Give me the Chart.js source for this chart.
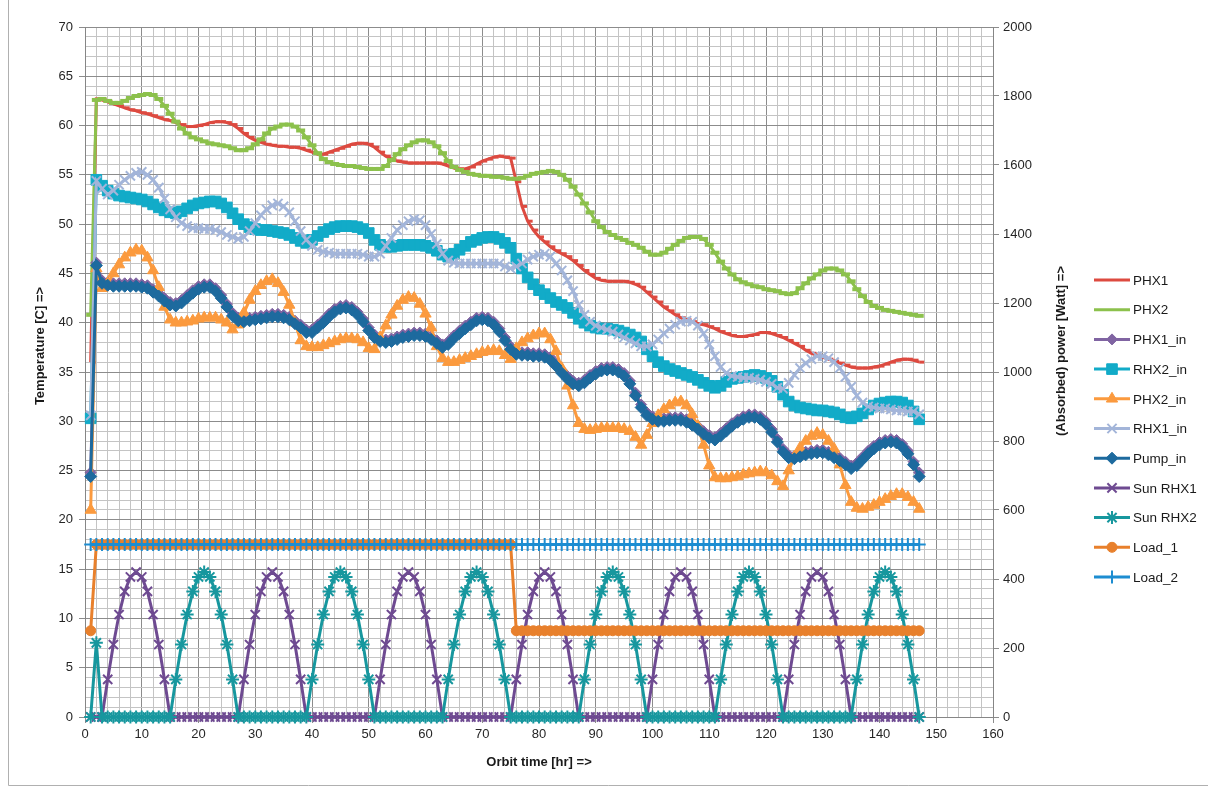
<!DOCTYPE html>
<html lang="en">
<head>
<meta charset="UTF-8">
<title>Orbit temperatures and absorbed power</title>
<script src="https://cdn.jsdelivr.net/npm/chart.js"></script>
<style>
  html, body { margin: 0; padding: 0; background: #fff; }
  #wrap { position: relative; width: 1208px; height: 787px; }
  canvas { position: absolute; left: 0; top: 0; }
</style>
</head>
<body>
<div id="wrap"><canvas id="Chart" width="1208" height="787"></canvas></div>
<script>
// orbit time [hr]
const hours = [
  1,2,3,4,5,6,7,8,9,10, 11,12,13,14,15,16,17,18,19,20,
  21,22,23,24,25,26,27,28,29,30, 31,32,33,34,35,36,37,38,39,40,
  41,42,43,44,45,46,47,48,49,50, 51,52,53,54,55,56,57,58,59,60,
  61,62,63,64,65,66,67,68,69,70, 71,72,73,74,75,76,77,78,79,80,
  81,82,83,84,85,86,87,88,89,90, 91,92,93,94,95,96,97,98,99,100,
  101,102,103,104,105,106,107,108,109,110, 111,112,113,114,115,116,117,118,119,120,
  121,122,123,124,125,126,127,128,129,130, 131,132,133,134,135,136,137,138,139,140,
  141,142,143,144,145,146,147
];

// temperatures [C] (left axis)
const phx1 = [
  36.0,62.7,62.6,62.4,62.2,62.0,61.8,61.6,61.5,61.3,
  61.2,61.0,60.8,60.6,60.5,60.3,60.1,59.9,59.9,60.0,
  60.1,60.3,60.4,60.4,60.3,60.1,59.7,59.2,58.8,58.5,
  58.3,58.1,58.0,57.9,57.9,57.8,57.8,57.7,57.5,57.3,
  57.1,57.1,57.3,57.5,57.7,57.9,58.1,58.2,58.2,58.1,
  57.8,57.3,56.9,56.6,56.4,56.3,56.2,56.2,56.2,56.2,
  56.2,56.2,56.1,55.9,55.7,55.6,55.6,55.8,56.1,56.4,
  56.6,56.8,56.9,56.8,56.7,54.3,51.8,50.3,49.4,48.7,
  48.2,47.7,47.3,47.0,46.7,46.3,45.8,45.3,44.9,44.5,
  44.3,44.2,44.2,44.2,44.2,44.1,43.9,43.6,43.1,42.6,
  42.1,41.6,41.2,40.8,40.5,40.3,40.1,39.9,39.8,39.6,
  39.4,39.1,38.9,38.7,38.6,38.6,38.7,38.8,39.0,39.0,
  38.9,38.7,38.5,38.2,37.9,37.6,37.2,36.9,36.7,36.5,
  36.3,36.1,35.9,35.7,35.5,35.4,35.4,35.4,35.5,35.6,
  35.8,36.0,36.2,36.3,36.3,36.2,36.0
];
const phx2 = [
  40.8,62.6,62.7,62.5,62.3,62.3,62.5,62.8,63.0,63.1,
  63.2,63.1,62.7,62.0,61.2,60.4,59.7,59.2,58.8,58.6,
  58.4,58.2,58.1,58.0,57.9,57.7,57.5,57.5,57.7,58.1,
  58.6,59.2,59.7,59.9,60.1,60.1,59.9,59.5,58.8,58.0,
  57.2,56.6,56.3,56.1,56.0,55.9,55.9,55.8,55.7,55.6,
  55.6,55.6,55.9,56.5,57.1,57.6,58.0,58.3,58.5,58.5,
  58.3,57.9,57.2,56.4,55.8,55.5,55.3,55.1,55.0,54.9,
  54.9,54.8,54.8,54.7,54.6,54.6,54.7,54.9,55.1,55.2,
  55.3,55.4,55.3,55.0,54.5,53.8,53.0,52.1,51.2,50.3,
  49.7,49.2,48.9,48.6,48.4,48.1,47.9,47.6,47.2,46.9,
  46.9,47.1,47.5,47.9,48.3,48.6,48.7,48.7,48.5,47.9,
  47.1,46.2,45.5,44.9,44.4,44.1,43.9,43.7,43.6,43.4,
  43.3,43.2,43.0,42.9,43.0,43.5,44.0,44.5,44.9,45.3,
  45.5,45.5,45.3,44.9,44.2,43.4,42.7,42.1,41.7,41.5,
  41.3,41.2,41.1,41.0,40.9,40.8,40.7
];
const phx1In = [
  24.8,46.1,44.3,44.1,44.0,44.0,44.0,44.0,44.0,43.9,
  43.8,43.4,43.0,42.5,42.1,42.0,42.3,42.8,43.3,43.7,
  43.9,43.9,43.5,42.8,41.9,41.0,40.5,40.4,40.5,40.6,
  40.7,40.8,40.9,40.9,40.8,40.6,40.2,39.8,39.3,39.3,
  39.8,40.3,40.9,41.4,41.7,41.8,41.6,41.1,40.4,39.5,
  38.8,38.4,38.3,38.4,38.6,38.8,38.9,39.0,39.0,38.9,
  38.6,38.2,37.8,38.1,38.7,39.2,39.7,40.1,40.5,40.6,
  40.5,40.1,39.4,38.5,37.6,37.1,37.0,37.0,36.9,36.9,
  36.8,36.5,35.9,35.2,34.6,34.1,33.9,34.2,34.7,35.1,
  35.4,35.5,35.5,35.3,34.9,34.1,32.9,31.7,30.9,30.5,
  30.3,30.3,30.4,30.4,30.4,30.2,29.9,29.5,29.0,28.6,
  28.4,28.8,29.3,29.8,30.2,30.5,30.7,30.7,30.5,30.0,
  29.2,28.2,27.2,26.6,26.5,26.7,26.9,27.0,27.1,27.1,
  26.9,26.6,26.3,25.9,25.5,25.8,26.4,27.0,27.5,27.9,
  28.1,28.2,28.1,27.7,27.0,25.9,24.8
];
const rhx2In = [
  30.3,54.5,53.9,53.4,53.1,52.9,52.8,52.7,52.6,52.5,
  52.3,52.0,51.7,51.4,51.2,51.1,51.3,51.6,51.9,52.1,
  52.2,52.3,52.3,52.1,51.7,51.1,50.5,50.0,49.7,49.5,
  49.4,49.4,49.3,49.2,49.1,48.9,48.6,48.3,48.1,48.4,
  48.8,49.2,49.5,49.7,49.8,49.8,49.8,49.7,49.5,49.1,
  48.4,47.9,47.7,47.7,47.8,47.9,47.9,47.9,47.9,47.8,
  47.6,47.3,46.9,46.7,47.0,47.4,47.8,48.2,48.4,48.6,
  48.7,48.7,48.5,48.1,47.6,46.5,45.5,44.6,43.9,43.3,
  42.9,42.5,42.1,41.8,41.5,41.0,40.4,40.0,39.7,39.5,
  39.4,39.4,39.3,39.2,39.0,38.8,38.5,38.1,37.3,36.6,
  36.0,35.6,35.3,35.1,34.9,34.7,34.5,34.2,33.9,33.6,
  33.4,33.6,34.0,34.3,34.4,34.5,34.6,34.7,34.6,34.4,
  34.1,33.5,32.7,32.0,31.6,31.4,31.3,31.2,31.1,31.1,
  31.0,30.9,30.7,30.4,30.3,30.5,30.8,31.2,31.6,31.8,
  31.9,32.0,32.0,31.9,31.6,31.0,30.2
];
const phx2In = [
  21.0,45.5,43.5,44.0,45.0,45.9,46.6,47.1,47.4,47.3,
  46.6,45.3,43.6,41.6,40.3,40.0,40.0,40.1,40.2,40.4,
  40.5,40.5,40.5,40.3,40.0,39.3,39.8,41.0,42.3,43.2,
  43.8,44.2,44.4,44.0,43.1,41.8,40.0,38.2,37.6,37.5,
  37.5,37.7,37.9,38.1,38.3,38.4,38.4,38.3,38.0,37.4,
  37.3,38.5,39.7,40.8,41.7,42.3,42.6,42.5,41.9,40.9,
  39.5,37.6,36.4,36.0,36.0,36.2,36.4,36.6,36.8,37.0,
  37.1,37.2,37.1,36.7,36.3,37.4,38.0,38.4,38.7,38.9,
  38.9,38.3,37.1,35.4,33.6,31.6,29.8,29.2,29.1,29.2,
  29.3,29.3,29.3,29.3,29.2,29.0,28.4,27.6,28.6,29.8,
  30.6,31.2,31.6,31.9,32.0,31.6,30.7,29.5,27.6,25.5,
  24.3,24.2,24.2,24.3,24.4,24.6,24.7,24.8,24.9,24.8,
  24.5,23.9,23.4,25.0,26.4,27.3,28.0,28.5,28.8,28.6,
  28.0,27.2,25.6,23.5,21.8,21.2,21.1,21.3,21.5,21.8,
  22.1,22.4,22.6,22.6,22.3,21.8,21.1
];
const rhx1In = [
  30.6,54.4,53.6,53.0,53.4,54.0,54.5,54.9,55.2,55.3,
  55.0,54.5,53.7,52.6,51.5,50.7,50.1,49.8,49.6,49.6,
  49.5,49.5,49.4,49.2,48.9,48.7,48.5,48.7,49.3,50.1,
  50.9,51.5,51.9,52.1,51.8,51.2,50.3,49.3,48.4,47.8,
  47.4,47.2,47.1,47.0,47.0,47.0,47.0,47.0,46.9,46.7,
  46.7,47.0,47.8,48.6,49.4,49.9,50.3,50.5,50.4,49.9,
  49.0,48.0,47.0,46.3,46.1,46.0,46.0,46.0,46.0,46.0,
  46.0,46.0,46.0,45.7,45.5,45.7,46.0,46.4,46.7,46.9,
  47.0,46.7,46.0,45.3,44.3,43.2,41.8,40.8,40.1,39.7,
  39.5,39.3,39.1,38.8,38.5,38.2,37.9,37.6,37.6,37.8,
  38.3,38.9,39.4,39.8,40.1,40.2,40.1,39.7,38.9,37.8,
  36.6,35.5,34.9,34.6,34.5,34.4,34.4,34.3,34.2,34.0,
  33.8,33.4,33.3,33.9,34.7,35.4,35.9,36.3,36.6,36.6,
  36.4,36.0,35.4,34.5,33.5,32.6,31.9,31.5,31.4,31.3,
  31.3,31.2,31.1,31.1,31.0,31.0,30.7
];
const pumpIn = [
  24.4,45.8,44.0,43.8,43.7,43.7,43.7,43.7,43.7,43.6,
  43.5,43.1,42.7,42.2,41.8,41.7,42.0,42.5,43.0,43.4,
  43.6,43.6,43.2,42.5,41.6,40.7,40.2,40.1,40.2,40.3,
  40.4,40.5,40.6,40.6,40.5,40.3,39.9,39.5,39.0,39.0,
  39.5,40.0,40.6,41.1,41.4,41.5,41.3,40.8,40.1,39.2,
  38.5,38.1,38.0,38.1,38.3,38.5,38.6,38.7,38.7,38.6,
  38.3,37.9,37.5,37.8,38.4,38.9,39.4,39.8,40.2,40.3,
  40.2,39.8,39.1,38.2,37.3,36.8,36.7,36.7,36.6,36.6,
  36.5,36.2,35.6,34.9,34.3,33.8,33.6,33.9,34.4,34.8,
  35.1,35.2,35.2,35.0,34.6,33.8,32.6,31.4,30.6,30.2,
  30.0,30.0,30.1,30.1,30.1,29.9,29.6,29.2,28.7,28.3,
  28.1,28.5,29.0,29.5,29.9,30.2,30.4,30.4,30.2,29.7,
  28.9,27.9,26.9,26.3,26.2,26.4,26.6,26.7,26.8,26.8,
  26.6,26.3,26.0,25.6,25.2,25.5,26.1,26.7,27.2,27.6,
  27.8,27.9,27.8,27.4,26.7,25.6,24.4
];

// absorbed power [Watt] (right axis)
const sunRhx1 = [
  0,0,0,109,210,297,364,406,420,406,
  364,297,210,109,0,0,0,0,0,0,
  0,0,0,0,0,0,0,109,210,297,
  364,406,420,406,364,297,210,109,0,0,
  0,0,0,0,0,0,0,0,0,0,
  0,109,210,297,364,406,420,406,364,297,
  210,109,0,0,0,0,0,0,0,0,
  0,0,0,0,0,109,210,297,364,406,
  420,406,364,297,210,109,0,0,0,0,
  0,0,0,0,0,0,0,0,0,109,
  210,297,364,406,420,406,364,297,210,109,
  0,0,0,0,0,0,0,0,0,0,
  0,0,0,109,210,297,364,406,420,406,
  364,297,210,109,0,0,0,0,0,0,
  0,0,0,0,0,0,0
];
const sunRhx2 = [
  0,215,0,0,0,0,0,0,0,0,
  0,0,0,0,0,109,210,297,364,406,
  420,406,364,297,210,109,0,0,0,0,
  0,0,0,0,0,0,0,0,0,109,
  210,297,364,406,420,406,364,297,210,109,
  0,0,0,0,0,0,0,0,0,0,
  0,0,0,109,210,297,364,406,420,406,
  364,297,210,109,0,0,0,0,0,0,
  0,0,0,0,0,0,0,109,210,297,
  364,406,420,406,364,297,210,109,0,0,
  0,0,0,0,0,0,0,0,0,0,
  0,109,210,297,364,406,420,406,364,297,
  210,109,0,0,0,0,0,0,0,0,
  0,0,0,0,0,109,210,297,364,406,
  420,406,364,297,210,109,0
];
const load1 = [
  250,500,500,500,500,500,500,500,500,500,
  500,500,500,500,500,500,500,500,500,500,
  500,500,500,500,500,500,500,500,500,500,
  500,500,500,500,500,500,500,500,500,500,
  500,500,500,500,500,500,500,500,500,500,
  500,500,500,500,500,500,500,500,500,500,
  500,500,500,500,500,500,500,500,500,500,
  500,500,500,500,500,250,250,250,250,250,
  250,250,250,250,250,250,250,250,250,250,
  250,250,250,250,250,250,250,250,250,250,
  250,250,250,250,250,250,250,250,250,250,
  250,250,250,250,250,250,250,250,250,250,
  250,250,250,250,250,250,250,250,250,250,
  250,250,250,250,250,250,250,250,250,250,
  250,250,250,250,250,250,250
];
const load2 = [
  500,500,500,500,500,500,500,500,500,500,
  500,500,500,500,500,500,500,500,500,500,
  500,500,500,500,500,500,500,500,500,500,
  500,500,500,500,500,500,500,500,500,500,
  500,500,500,500,500,500,500,500,500,500,
  500,500,500,500,500,500,500,500,500,500,
  500,500,500,500,500,500,500,500,500,500,
  500,500,500,500,500,500,500,500,500,500,
  500,500,500,500,500,500,500,500,500,500,
  500,500,500,500,500,500,500,500,500,500,
  500,500,500,500,500,500,500,500,500,500,
  500,500,500,500,500,500,500,500,500,500,
  500,500,500,500,500,500,500,500,500,500,
  500,500,500,500,500,500,500,500,500,500,
  500,500,500,500,500,500,500
];

const FONT = '"Liberation Sans", Arial, sans-serif';
Chart.defaults.font.family = FONT;
Chart.defaults.font.size = 13;
Chart.defaults.color = '#262626';

const MAJOR = '#8c8c8c';
const MINOR = '#c4c4c4';

// one dataset per series; later series sit on top like in the original
function series(label, data, color, style, radius, axis, markerWidth, idx) {
  return {
    label: label,
    data: data,
    yAxisID: axis,
    borderColor: color,
    backgroundColor: color,
    borderWidth: 3,
    pointStyle: style,
    pointRadius: radius,
    pointHoverRadius: radius,
    pointBorderColor: color,
    pointBackgroundColor: color,
    pointBorderWidth: markerWidth,
    tension: 0,
    clip: false,
    order: 20 - idx
  };
}

const datasets = [
  series('PHX1', phx1, '#dd4a40', 'dash', 5, 'y', 3, 0),
  series('PHX2', phx2, '#8cc14c', 'line', 4.5, 'y', 4, 1),
  series('PHX1_in', phx1In, '#8064a2', 'rectRot', 5.5, 'y', 1, 2),
  series('RHX2_in', rhx2In, '#12abc8', 'rect', 7.5, 'y', 1, 3),
  series('PHX2_in', phx2In, '#fb9a3e', 'triangle', 6.5, 'y', 1, 4),
  series('RHX1_in', rhx1In, '#a3b5d9', 'crossRot', 6.5, 'y', 2, 5),
  series('Pump_in', pumpIn, '#1d6a9e', 'rectRot', 6, 'y', 1, 6),
  series('Sun RHX1', sunRhx1, '#6e4a91', 'crossRot', 6.5, 'y2', 2, 7),
  series('Sun RHX2', sunRhx2, '#17979e', 'star', 6.5, 'y2', 2, 8),
  series('Load_1', load1, '#e8802c', 'circle', 5, 'y2', 1, 9),
  series('Load_2', load2, '#1d8dd1', 'cross', 6.5, 'y2', 2, 10)
];

// frame, rotated axis titles and the legend (line + marker samples)
const chartDecor = {
  id: 'chartDecor',
  beforeDraw(chart) {
    const ctx = chart.ctx;
    ctx.save();
    ctx.fillStyle = '#ffffff';
    ctx.fillRect(0, 0, chart.width, chart.height);
    ctx.strokeStyle = '#b0b0b0';
    ctx.lineWidth = 1;
    ctx.beginPath();
    ctx.moveTo(8.5, 0);
    ctx.lineTo(8.5, 785.5);
    ctx.lineTo(chart.width, 785.5);
    ctx.stroke();
    ctx.restore();
  },
  afterDraw(chart) {
    const ctx = chart.ctx;
    ctx.save();
    ctx.fillStyle = '#1a1a1a';
    ctx.font = 'bold 13px ' + FONT;
    ctx.textAlign = 'center';
    ctx.textBaseline = 'middle';
    ctx.save();
    ctx.translate(40, 346);
    ctx.rotate(-Math.PI / 2);
    ctx.fillText('Temperature [C] =>', 0, 0);
    ctx.restore();
    ctx.save();
    ctx.translate(1061, 351);
    ctx.rotate(-Math.PI / 2);
    ctx.fillText('(Absorbed) power [Watt] =>', 0, 0);
    ctx.restore();

    chart.data.datasets.forEach(function (ds, i) {
      const y = 280 + i * 29.7;
      ctx.strokeStyle = ds.borderColor;
      ctx.lineWidth = ds.borderWidth;
      ctx.beginPath();
      ctx.moveTo(1094, y);
      ctx.lineTo(1130, y);
      ctx.stroke();
      if (ds.pointStyle !== 'line' && ds.pointStyle !== 'dash' && Chart.helpers && Chart.helpers.drawPoint) {
        ctx.fillStyle = ds.pointBackgroundColor;
        ctx.strokeStyle = ds.pointBorderColor;
        ctx.lineWidth = ds.pointBorderWidth;
        Chart.helpers.drawPoint(ctx, {
          pointStyle: ds.pointStyle, radius: ds.pointRadius, rotation: 0, borderWidth: ds.pointBorderWidth
        }, 1112, y);
      }
      ctx.fillStyle = '#1a1a1a';
      ctx.font = '13.5px ' + FONT;
      ctx.textAlign = 'left';
      ctx.fillText(ds.label, 1133, y + 1);
    });
    ctx.restore();
  }
};

new Chart(document.getElementById('Chart'), {
  type: 'line',
  data: { labels: hours, datasets: datasets },
  options: {
    responsive: false,
    animation: false,
    devicePixelRatio: 1,
    layout: { padding: { left: 0, right: 133, top: 27, bottom: 10 } },
    plugins: {
      legend: { display: false },
      tooltip: { enabled: false }
    },
    scales: {
      x: {
        type: 'linear',
        min: 0,
        max: 160,
        ticks: {
          stepSize: 2,
          autoSkip: false,
          maxRotation: 0,
          padding: 4,
          callback: v => (v % 10 === 0 ? String(v) : '')
        },
        grid: {
          color: c => (c.tick && c.tick.value % 10 === 0 ? MAJOR : MINOR),
          tickColor: c => (c.tick && c.tick.value % 10 === 0 ? MAJOR : 'rgba(0,0,0,0)'),
          tickLength: 6
        },
        border: { color: '#868686' },
        title: {
          display: true,
          text: 'Orbit time [hr] =>',
          color: '#1a1a1a',
          font: { weight: 'bold', size: 13 },
          padding: { top: 0, bottom: 7 }
        },
        afterFit: s => { s.height = 60; }
      },
      y: {
        position: 'left',
        min: 0,
        max: 70,
        ticks: {
          stepSize: 1,
          autoSkip: false,
          padding: 6,
          callback: v => (v % 5 === 0 ? String(v) : '')
        },
        grid: {
          color: c => (c.tick && c.tick.value % 5 === 0 ? MAJOR : MINOR),
          tickColor: c => (c.tick && c.tick.value % 5 === 0 ? MAJOR : 'rgba(0,0,0,0)'),
          tickLength: 6
        },
        border: { color: '#868686' },
        afterFit: s => { s.width = 85; }
      },
      y2: {
        position: 'right',
        min: 0,
        max: 2000,
        ticks: { stepSize: 200, autoSkip: false, padding: 4, callback: v => String(v) },
        grid: { drawOnChartArea: false, color: MAJOR, tickLength: 6 },
        border: { color: '#868686' },
        afterFit: s => { s.width = 82; }
      }
    }
  },
  plugins: [chartDecor]
});
</script>
</body>
</html>
